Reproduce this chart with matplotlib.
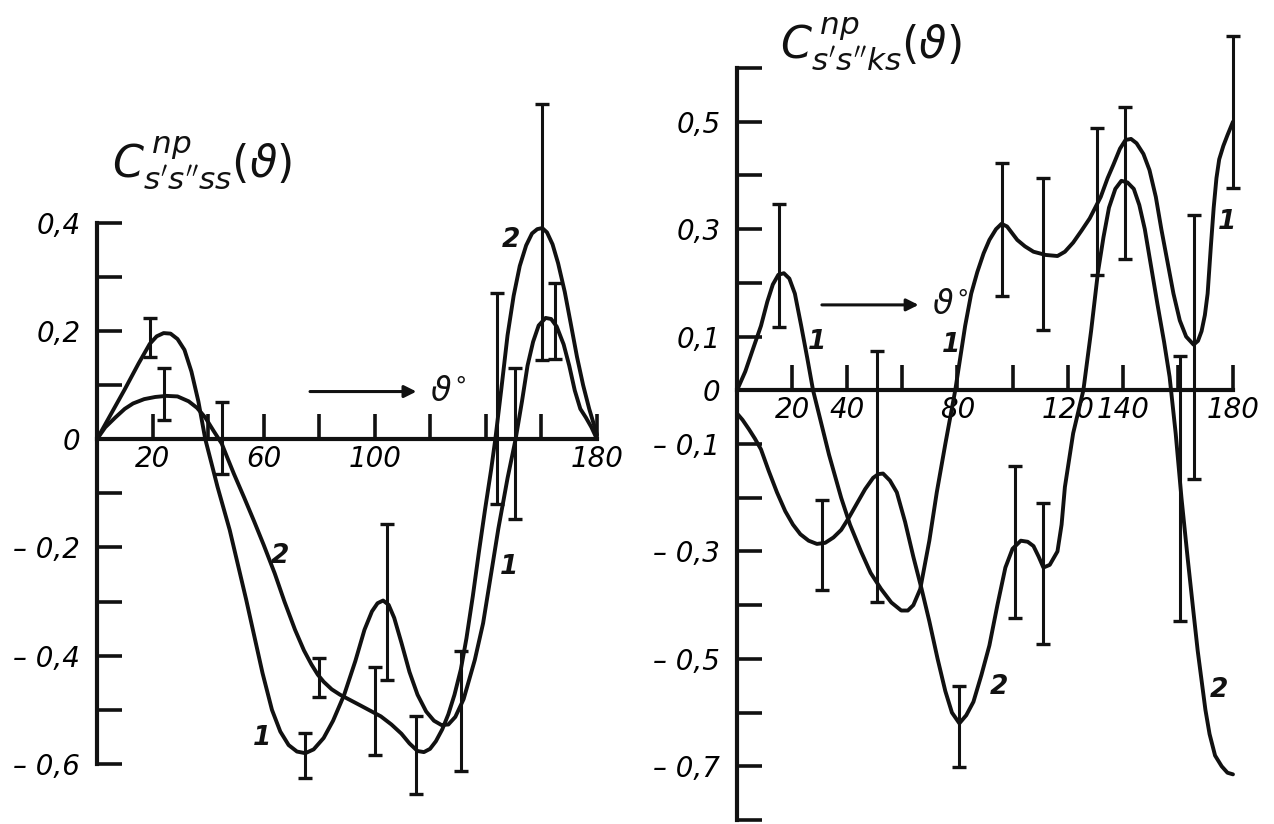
import numpy as np
import matplotlib
matplotlib.use("Agg")
import matplotlib.pyplot as plt
from matplotlib.ticker import FixedLocator, FixedFormatter

plt.rcParams.update({
    "figure.facecolor": "white",
    "axes.facecolor": "white",
    "font.family": "DejaVu Sans",
    "mathtext.fontset": "dejavusans",
})

INK = "#111111"

# ---- left panel: C^np_{s's''ss}(theta) ----
l_c1_deg = [0, 5, 10, 15, 19, 21.5, 24, 26.5, 29, 31.5, 34, 36.5, 39, 43.4, 47.8, 53.7,
            59.6, 63, 66, 69, 72, 75, 78, 81.6, 85, 89, 93, 96.3, 99, 101, 103, 105, 107,
            109.6, 112.5, 115.4, 118.5, 121.3, 124, 126.5, 129, 132, 136, 139, 141.9,
            144.5, 147.8, 150.7, 153, 155, 157, 159, 161.5, 163.5, 165.5, 168, 170, 172,
            174, 176, 178, 180]
l_c1_val = [0, 0.046, 0.092, 0.14, 0.176, 0.19, 0.196, 0.195, 0.185, 0.165, 0.125, 0.07,
            0, -0.088, -0.168, -0.296, -0.432, -0.5, -0.54, -0.565, -0.577, -0.58, -0.573,
            -0.552, -0.52, -0.472, -0.41, -0.352, -0.318, -0.303, -0.298, -0.306, -0.33,
            -0.376, -0.43, -0.472, -0.503, -0.52, -0.528, -0.527, -0.513, -0.48, -0.408,
            -0.34, -0.248, -0.165, -0.072, 0, 0.07, 0.136, 0.18, 0.21, 0.224, 0.222, 0.208,
            0.175, 0.136, 0.09, 0.056, 0.04, 0.022, 0]
l_c2_deg = [0, 3, 6.6, 10, 13, 17, 21, 25, 29, 33, 36, 39, 41.9, 44.9, 47, 49.3, 53, 56.6,
            60, 64, 67.5, 71.3, 74.5, 77.2, 79.5, 81.6, 84.5, 87.5, 94.9, 102.2, 106, 109.6,
            112.5, 115.4, 117.7, 119.9, 122, 124.3, 126.5, 128.7, 131, 133, 135.3, 137.5,
            139.7, 141.9, 143.4, 145.5, 147.8, 150, 152.2, 154.5, 156.6, 158.5, 160.3, 162,
            164, 166, 168.4, 170.5, 172.8, 175, 177.2, 180]
l_c2_val = [0, 0.022, 0.04, 0.056, 0.066, 0.074, 0.078, 0.08, 0.079, 0.07, 0.058, 0.04,
            0.016, -0.008, -0.035, -0.064, -0.108, -0.152, -0.195, -0.248, -0.3, -0.352,
            -0.39, -0.416, -0.435, -0.448, -0.462, -0.472, -0.492, -0.512, -0.527, -0.544,
            -0.562, -0.576, -0.578, -0.572, -0.558, -0.536, -0.508, -0.472, -0.425, -0.368,
            -0.29, -0.208, -0.13, -0.056, 0, 0.09, 0.192, 0.265, 0.32, 0.358, 0.38, 0.388,
            0.39, 0.382, 0.36, 0.325, 0.272, 0.215, 0.152, 0.1, 0.056, 0.008]
l_err_deg = [19, 24, 45, 80, 75, 104.4, 100, 114.7, 131, 144, 150.4, 160.3, 165]
l_err_lo = [0.152, 0.036, -0.064, -0.476, -0.626, -0.444, -0.584, -0.656, -0.612,
            -0.12, -0.148, 0.146, 0.148]
l_err_hi = [0.224, 0.132, 0.068, -0.404, -0.542, -0.156, -0.42, -0.512, -0.392,
            0.27, 0.132, 0.62, 0.288]
l_yticks = [0.4, 0.3, 0.2, 0.1, 0.0, -0.1, -0.2, -0.3, -0.4, -0.5, -0.6]
l_ylabels = ["0,4", "", "0,2", "", "0", "", "– 0,2", "", "– 0,4", "", "– 0,6"]
l_xticks = [20, 40, 60, 80, 100, 120, 140, 160, 180]
l_xlabels = ["20", "", "60", "", "100", "", "", "", "180"]

# ---- right panel: C^np_{s's''ks}(theta) ----
r_c1_deg = [0, 3, 6, 8.7, 11, 13, 15, 17, 19, 21, 23.3, 25.5, 27.6, 30.5, 33.4, 37.8, 41,
            45, 48.5, 52.3, 56, 59.6, 62, 64, 66.5, 69.8, 72.5, 75.6, 79.2, 82.8, 85, 87.2,
            89.5, 91.6, 94, 96, 98, 101.7, 104.5, 107.6, 112, 116.3, 119, 122, 125, 128,
            132, 134.5, 136.6, 139, 141, 143, 145, 147.5, 149.7, 152, 154, 156.2, 158.4,
            160.7, 163, 165.7, 167.3, 168.6, 169.8, 170.8, 172, 173, 174, 175, 176.5, 178,
            180]
r_c1_val = [0, 0.035, 0.08, 0.12, 0.165, 0.197, 0.215, 0.218, 0.208, 0.18, 0.12, 0.06, 0,
            -0.06, -0.12, -0.2, -0.25, -0.30, -0.34, -0.37, -0.395, -0.41, -0.41, -0.40,
            -0.37, -0.28, -0.19, -0.10, 0, 0.12, 0.18, 0.22, 0.255, 0.28, 0.3, 0.31, 0.305,
            0.28, 0.268, 0.258, 0.252, 0.25, 0.258, 0.275, 0.297, 0.32, 0.36, 0.395, 0.42,
            0.45, 0.466, 0.468, 0.46, 0.44, 0.41, 0.36, 0.30, 0.24, 0.18, 0.13, 0.10, 0.085,
            0.092, 0.11, 0.14, 0.18, 0.27, 0.34, 0.395, 0.43, 0.455, 0.475, 0.50]
r_c2_deg = [0, 2, 4.4, 6.5, 8.7, 11.5, 14.5, 17.5, 20.3, 23, 26, 29, 32, 35, 37.8, 40.5,
            43.6, 46.5, 49.4, 51.3, 53, 55.5, 58, 61, 64, 67, 69.8, 72.8, 75.6, 78, 80.7,
            83.2, 85.8, 88.7, 91.6, 94.5, 97.4, 100, 103, 105.5, 107.6, 109.5, 111.2, 113.5,
            116.3, 117.8, 119, 120.5, 122, 125.7, 128.5, 131, 133, 135, 137.3, 139.5, 141.7,
            144, 146, 148, 150.3, 152.6, 155, 157, 159.2, 161.3, 163.5, 165.7, 167.2, 168.6,
            170, 171.5, 173.5, 175.9, 178, 180]
r_c2_val = [-0.043, -0.055, -0.073, -0.09, -0.11, -0.15, -0.19, -0.225, -0.25, -0.268,
            -0.28, -0.286, -0.284, -0.274, -0.26, -0.238, -0.21, -0.184, -0.163, -0.156,
            -0.155, -0.168, -0.19, -0.245, -0.31, -0.37, -0.43, -0.5, -0.56, -0.6, -0.62,
            -0.605, -0.58, -0.53, -0.475, -0.4, -0.33, -0.295, -0.28, -0.282, -0.29, -0.31,
            -0.33, -0.325, -0.30, -0.25, -0.18, -0.13, -0.08, 0, 0.11, 0.22, 0.285, 0.34,
            0.375, 0.39, 0.387, 0.375, 0.345, 0.30, 0.23, 0.16, 0.09, 0.025, -0.08, -0.2,
            -0.31, -0.415, -0.485, -0.54, -0.595, -0.64, -0.68, -0.70, -0.712, -0.715]
r_err_deg = [15.3, 31, 50.9, 80.7, 96, 101, 111.2, 111.2, 130.8, 140.7, 160.6, 165.7, 180]
r_err_lo = [0.117, -0.371, -0.395, -0.702, 0.176, -0.424, 0.112, -0.473, 0.215, 0.244,
            -0.429, -0.166, 0.376]
r_err_hi = [0.346, -0.205, 0.073, -0.551, 0.424, -0.141, 0.395, -0.21, 0.488, 0.527,
            0.063, 0.327, 0.659]
r_yticks = [0.6, 0.5, 0.4, 0.3, 0.2, 0.1, 0.0, -0.1, -0.2, -0.3, -0.4, -0.5, -0.6, -0.7, -0.8]
r_ylabels = ["", "0,5", "", "0,3", "", "0,1", "0", "– 0,1", "", "– 0,3", "", "– 0,5",
             "", "– 0,7", ""]
r_xticks = [20, 40, 60, 80, 100, 120, 140, 160, 180]
r_xlabels = ["20", "40", "", "80", "", "120", "140", "", "180"]


def draw_panel(ax, curves, err, yticks, ylabels, xticks, xlabels, ylim):
    ax.set_xlim(0, 180)
    ax.set_ylim(*ylim)
    for sp in ("top", "right"):
        ax.spines[sp].set_visible(False)
    ax.spines["bottom"].set_position(("data", 0))
    for sp in ("left", "bottom"):
        ax.spines[sp].set_linewidth(3)
        ax.spines[sp].set_color(INK)

    for deg, val in curves:
        ax.plot(deg, val, color=INK, lw=2.8, solid_joinstyle="round",
                solid_capstyle="round")

    deg, lo, hi = (np.asarray(a) for a in err)
    ax.errorbar(deg, (lo + hi) / 2, yerr=(hi - lo) / 2, fmt="none", ecolor=INK,
                elinewidth=2.2, capsize=5, capthick=2.4)

    ax.yaxis.set_major_locator(FixedLocator(yticks))
    ax.yaxis.set_major_formatter(FixedFormatter(ylabels))
    ax.xaxis.set_major_locator(FixedLocator(xticks))
    ax.xaxis.set_major_formatter(FixedFormatter(xlabels))
    ax.tick_params(axis="y", direction="in", length=18, width=2.6, color=INK, pad=12,
                   labelsize=20)
    ax.tick_params(axis="x", direction="in", length=18, width=2.6, color=INK, pad=4,
                   labelsize=20)
    for lab in ax.get_xticklabels() + ax.get_yticklabels():
        lab.set_fontstyle("italic")

    for child in ax.get_children():
        child.set_clip_on(False)


def axis_arrow(ax, x0, x1, y):
    ax.annotate("", xy=(x1, y), xytext=(x0, y),
                arrowprops=dict(arrowstyle="-|>", color=INK, lw=2.2,
                                mutation_scale=18))
    ax.text(x1 + 4, y, r"$\vartheta^{\circ}$", fontsize=24, va="center", ha="left",
            color=INK)


def curve_tags(ax, tags):
    for txt, x, y in tags:
        ax.text(x, y, txt, fontsize=19, fontweight="bold", fontstyle="italic",
                ha="center", va="center", color=INK)


fig = plt.figure(figsize=(12.74, 8.24), dpi=100)

ax1 = fig.add_axes([0.0761, 0.0728, 0.3925, 0.657])
draw_panel(ax1, [(l_c1_deg, l_c1_val), (l_c2_deg, l_c2_val)],
           (l_err_deg, l_err_lo, l_err_hi), l_yticks, l_ylabels,
           l_xticks, l_xlabels, (-0.6, 0.4))
axis_arrow(ax1, 75.7, 116, 0.088)
curve_tags(ax1, [("2", 149, 0.368), ("2", 66, -0.216), ("1", 59.6, -0.552),
                 ("1", 148.5, -0.236)])

ax2 = fig.add_axes([0.5785, 0.00485, 0.3893, 0.9126])
draw_panel(ax2, [(r_c1_deg, r_c1_val), (r_c2_deg, r_c2_val)],
           (r_err_deg, r_err_lo, r_err_hi), r_yticks, r_ylabels,
           r_xticks, r_xlabels, (-0.8, 0.6))
axis_arrow(ax2, 29.8, 66.9, 0.159)
curve_tags(ax2, [("1", 29, 0.089), ("1", 77.8, 0.084), ("1", 178, 0.314),
                 ("2", 95.2, -0.553), ("2", 175, -0.558)])

fig.text(0.088, 0.785, r"$C^{\,np}_{s's''ss}(\vartheta)$", fontsize=32, color=INK)
fig.text(0.612, 0.93, r"$C^{\,np}_{s's''ks}(\vartheta)$", fontsize=32, color=INK)

fig.savefig("out.png", dpi=100)
